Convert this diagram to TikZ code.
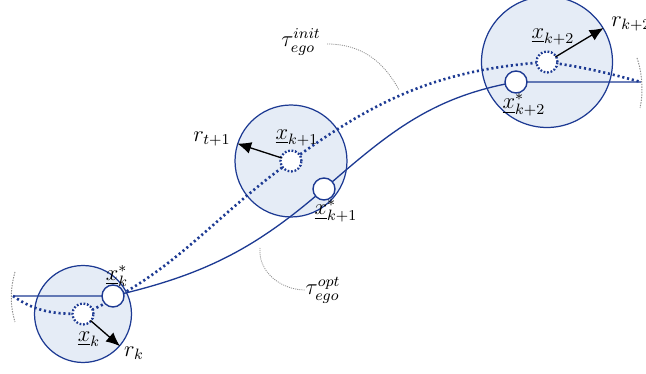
\documentclass[tikz,border=0pt]{standalone}
\usepackage{amsmath}
\usetikzlibrary{arrows.meta,positioning,calc}
\definecolor{trjBlue}{HTML}{1D3A93}
\definecolor{trjFill}{HTML}{E5ECF6}
\definecolor{trjMute}{HTML}{8C8C8C}
\tikzset{
  region/.style={circle, draw=trjBlue, fill=trjFill, line width=0.7pt, inner sep=0pt},
  optpt/.style={circle, draw=trjBlue, fill=white, line width=0.8pt, minimum size=0.44cm, inner sep=0pt},
  initpt/.style={circle, draw=trjBlue, fill=white, line width=1.3pt, dash pattern=on 1pt off 1pt, minimum size=0.42cm, inner sep=0pt},
  optpath/.style={trjBlue, line width=0.75pt},
  initpath/.style={trjBlue, line width=1.5pt, dash pattern=on 1.2pt off 1.6pt},
  radarrow/.style={-{Latex[length=2.8mm, width=2.4mm]}, line width=0.75pt, black, shorten <=-1pt},
  leader/.style={trjMute, line width=0.45pt, dash pattern=on 0.6pt off 0.6pt},
  endtick/.style={trjMute, line width=0.55pt, dash pattern=on 0.8pt off 0.7pt},
  lbl/.style={font=\large, inner sep=0pt, scale=1.07, transform shape}
}

\begin{document}
\begin{tikzpicture}[x=0.02cm, y=-0.02cm]
  \useasboundingbox (0,0) rectangle (646,374);
  % tolerance regions
  \node[region, minimum size=1.94cm] (rgk)  at (83,314)  {};
  \node[region, minimum size=2.24cm] (rgk1) at (291,161) {};
  \node[region, minimum size=2.62cm] (rgk2) at (547,62)  {};
  % waypoints
  \coordinate (lend) at (13,296);
  \coordinate (rend) at (641,82);
  \coordinate (ik)  at (83,314);
  \coordinate (ik1) at (291,161);
  \coordinate (ik2) at (547,62);
  \coordinate (ok)  at (113,296);
  \coordinate (ok1) at (324,189);
  \coordinate (ok2) at (516,82);
  % trajectories
  \draw[optpath] (lend) -- (ok) to[out=13,in=221] (ok1) to[out=41,in=190] (ok2) -- (rend);
  \draw[initpath] (lend) to[out=-35,in=180] (ik) to[out=24,in=216] (ik1)
    to[out=36,in=184] (ik2) to[out=-8,in=165] (rend);
  % path ends
  \draw[endtick] (15,272) .. controls (10,290) and (10,305) .. (15,322);
  \draw[endtick] (637,58) .. controls (643,75) and (643,95) .. (640,108);
  % points
  \node[initpt] (xk)  at (ik)  {};
  \node[initpt] (xk1) at (ik1) {};
  \node[initpt] (xk2) at (ik2) {};
  \node[optpt] (xsk)  at (ok)  {};
  \node[optpt] (xsk1) at (ok1) {};
  \node[optpt] (xsk2) at (ok2) {};
  % radii
  \draw[radarrow] (xk) -- (rgk.-41);
  \draw[radarrow] (xk1) -- (rgk1.162);
  \draw[radarrow] (xk2) -- (rgk2.31);
  % labels
  \node[lbl] (lxk)   at (89,339)  {$\underline{x}_k$};
  \node[lbl] (lxsk)  at (117,276) {$\underline{x}_k^*$};
  \node[lbl] (lrk)   at (134,353) {$r_k$};
  \node[lbl] (lxk1)  at (297,138) {$\underline{x}_{k+1}$};
  \node[lbl] (lxsk1) at (336,211) {$\underline{x}_{k+1}^*$};
  \node[lbl] (lrk1)  at (212,139) {$r_{t+1}$};
  \node[lbl] (lxk2)  at (553,37)  {$\underline{x}_{k+2}$};
  \node[lbl] (lxsk2) at (524,105) {$\underline{x}_{k+2}^*$};
  \node[lbl, anchor=west] (lrk2) at (611,24) {$r_{k+2}$};
  \node[lbl] (tinit) at (301,42)  {$\tau_{ego}^{init}$};
  \node[lbl] (topt)  at (323,290) {$\tau_{ego}^{opt}$};
  % leaders
  \draw[leader] (tinit.east) ++(6,2) to[out=0,in=118] (399,90);
  \draw[leader] (260,248) to[out=-95,in=180] (topt.west);
\end{tikzpicture}
\end{document}
